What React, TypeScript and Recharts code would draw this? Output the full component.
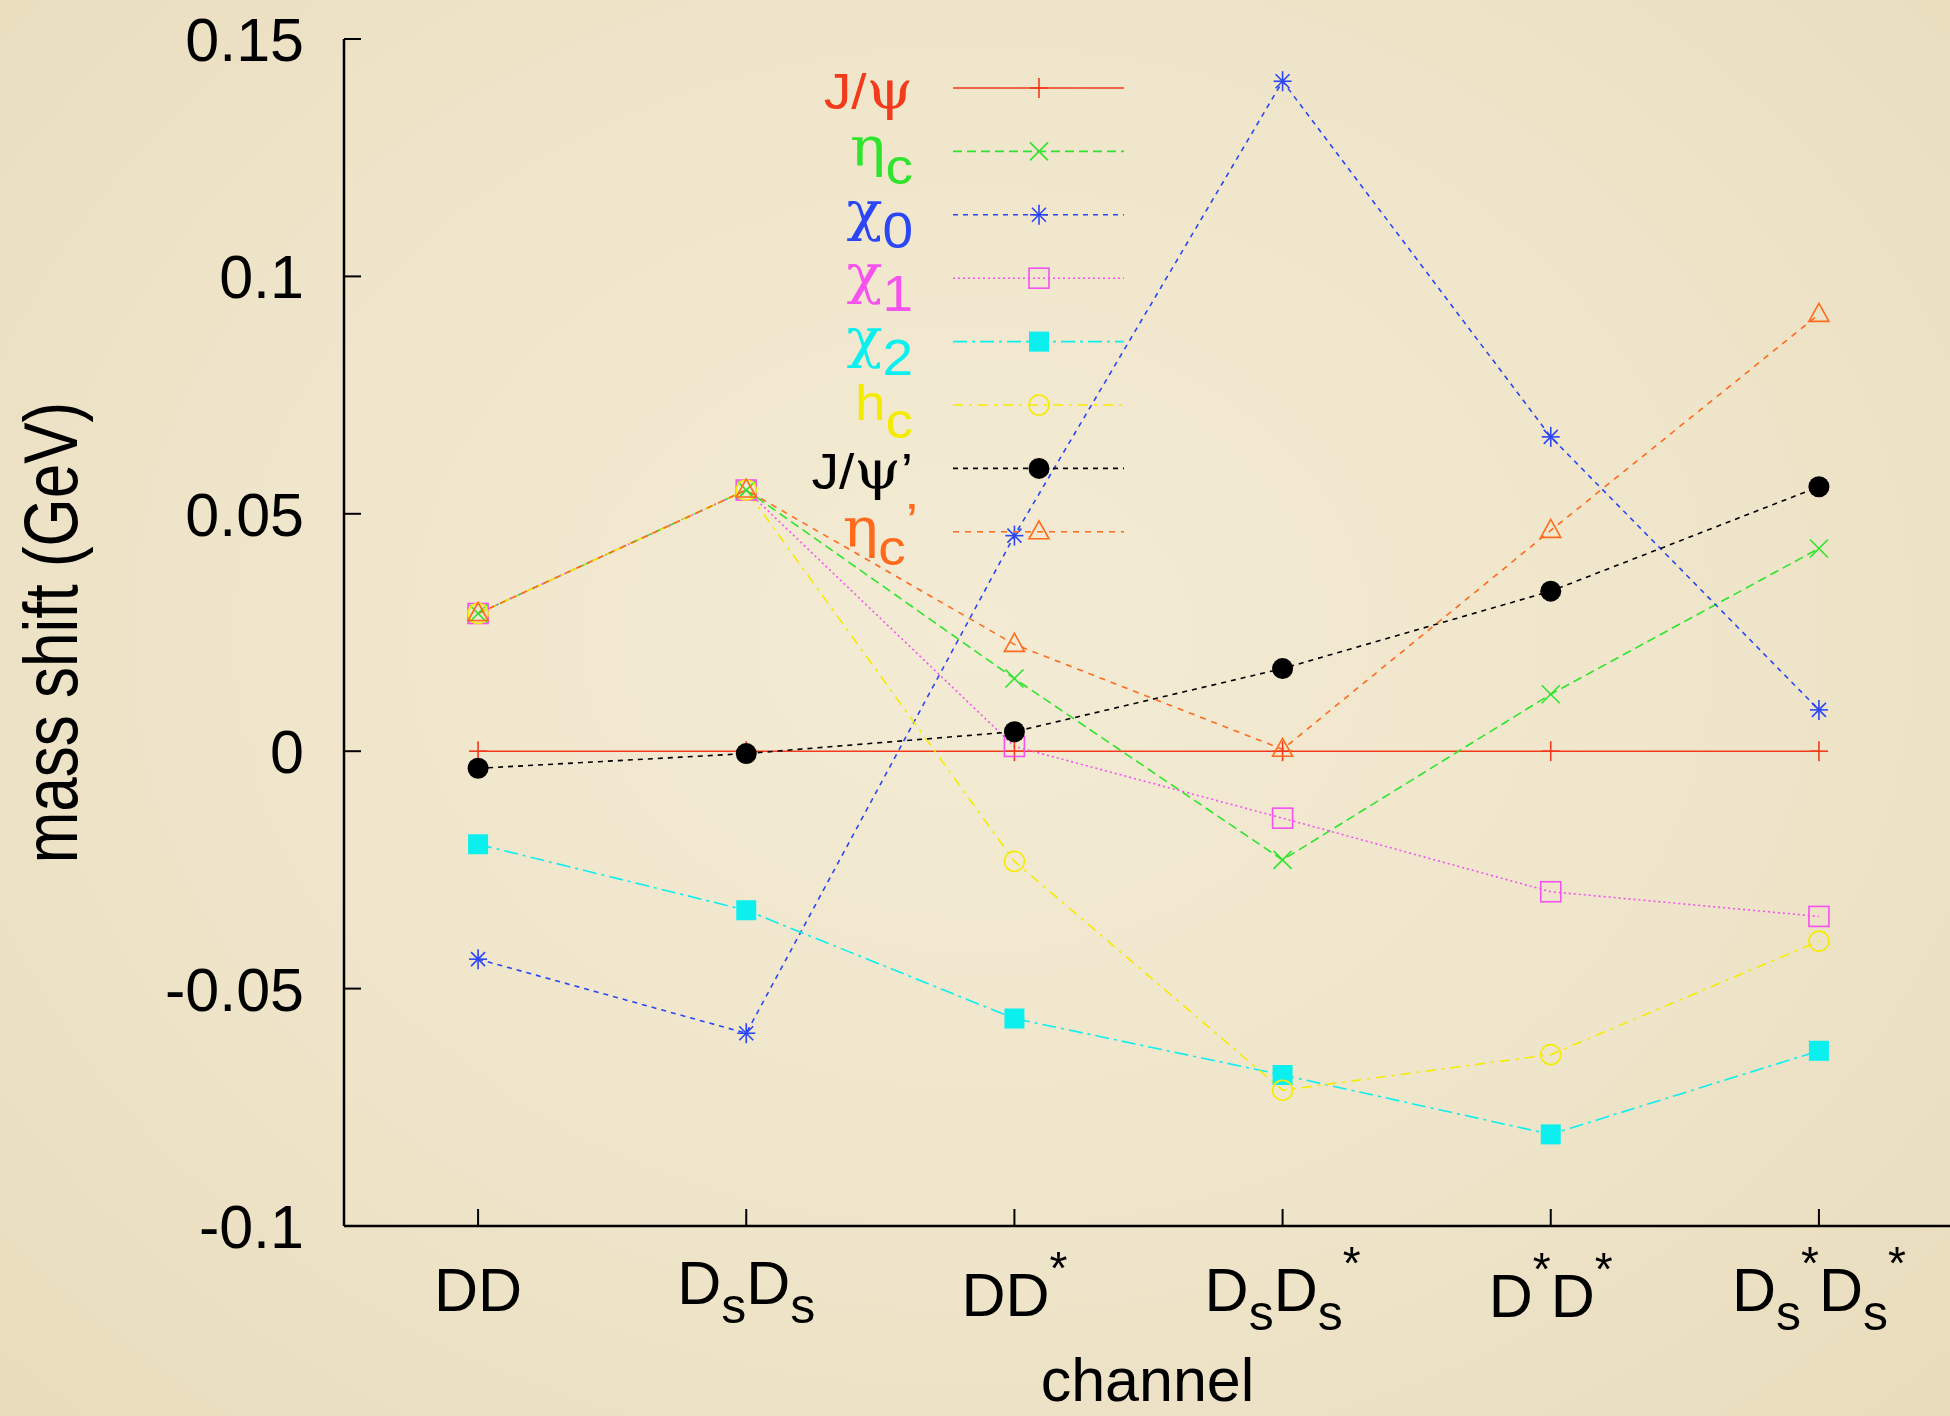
import React from 'react';
import { LineChart, Line, XAxis, YAxis, Legend } from 'recharts';

// ---------------- data ----------------
const categories = ['DD', 'DsDs', 'DD*', 'DsDs*', 'D*D*', 'Ds*Ds*'];
const xPositions = [1, 2, 3, 4, 5, 6];
const yTicks = [-0.1, -0.05, 0, 0.05, 0.1, 0.15];
const yTickLabels = ['-0.1', '-0.05', '0', '0.05', '0.1', '0.15'];

type Kind = 'n' | 'g' | 'sub' | 'sup';
type Part = [string, Kind];

// tick label text, split into normal / subscript / superscript pieces
const categoryLabelParts: Part[][] = [
  [['DD', 'n']],
  [['D', 'n'], ['s', 'sub'], ['D', 'n'], ['s', 'sub']],
  [['DD', 'n'], ['*', 'sup']],
  [['D', 'n'], ['s', 'sub'], ['D', 'n'], ['s', 'sub'], ['*', 'sup']],
  [['D', 'n'], ['*', 'sup'], ['D', 'n'], ['*', 'sup']],
  [['D', 'n'], ['s', 'sub'], ['*', 'sup'], ['D', 'n'], ['s', 'sub'], ['*', 'sup']],
];

const jpsi = [0, 0, 0, 0, 0, 0];
const etac = [0.029, 0.055, 0.0153, -0.0229, 0.012, 0.0427];
const chi0 = [-0.0438, -0.0594, 0.0454, 0.1411, 0.0662, 0.0087];
const chi1 = [0.029, 0.055, 0.001, -0.0141, -0.0296, -0.0348];
const chi2 = [-0.0196, -0.0335, -0.0563, -0.0682, -0.0807, -0.0631];
const hc = [0.029, 0.055, -0.0232, -0.0714, -0.0639, -0.04];
const jpsiPrime = [-0.0036, -0.0005, 0.0041, 0.0174, 0.0337, 0.0557];
const etacPrime = [0.029, 0.055, 0.0225, 0.0004, 0.0465, 0.092];

const seriesKeys = ['jpsi', 'etac', 'chi0', 'chi1', 'chi2', 'hc', 'jpsiPrime', 'etacPrime'];
const seriesValues = [jpsi, etac, chi0, chi1, chi2, hc, jpsiPrime, etacPrime];
const seriesNames: Part[][] = [
  [['J/', 'n'], ['ψ', 'g']],
  [['η', 'g'], ['c', 'sub']],
  [['χ', 'g'], ['0', 'sub']],
  [['χ', 'g'], ['1', 'sub']],
  [['χ', 'g'], ['2', 'sub']],
  [['h', 'n'], ['c', 'sub']],
  [['J/', 'n'], ['ψ', 'g'], ['’', 'n']],
  [['η', 'g'], ['c', 'sub'], ['’', 'sup']],
];

// ---------------- style ----------------
const SANS = '"Liberation Sans", Arial, Helvetica, "DejaVu Sans", sans-serif';
const SERIF = '"DejaVu Serif", "Liberation Serif", serif';

const seriesColors = ['#F43A1C', '#2FE42C', '#2A46F5', '#F552EE', '#0CEFEF', '#F4EC00', '#000000', '#FF6A1C'];
const seriesDash = ['', '9 5', '5 5', '2 3', '14 5 3 5', '10 6 3 6', '5 5', '6 6'];
const seriesMarker = ['plus', 'cross', 'star', 'sqOpen', 'sqFill', 'circOpen', 'circFill', 'tri'];

const data = xPositions.map((x, i) => {
  const row: Record<string, number | string> = { x, cat: categories[i] };
  seriesKeys.forEach((k, s) => {
    row[k] = seriesValues[s][i];
  });
  return row;
});

const Marker = ({ kind, cx, cy, color }: { kind: string; cx: number; cy: number; color: string }) => {
  const sw = 1.6;
  const s = 9;
  switch (kind) {
    case 'plus':
      return (
        <g stroke={color} strokeWidth={sw}>
          <line x1={cx - s} x2={cx + s} y1={cy} y2={cy} />
          <line x1={cx} x2={cx} y1={cy - s - 1} y2={cy + s + 1} />
        </g>
      );
    case 'cross':
      return (
        <g stroke={color} strokeWidth={sw}>
          <line x1={cx - s} x2={cx + s} y1={cy - s} y2={cy + s} />
          <line x1={cx - s} x2={cx + s} y1={cy + s} y2={cy - s} />
        </g>
      );
    case 'star':
      return (
        <g stroke={color} strokeWidth={sw}>
          <line x1={cx - s} x2={cx + s} y1={cy} y2={cy} />
          <line x1={cx} x2={cx} y1={cy - s - 1} y2={cy + s + 1} />
          <line x1={cx - s + 2} x2={cx + s - 2} y1={cy - s + 2} y2={cy + s - 2} />
          <line x1={cx - s + 2} x2={cx + s - 2} y1={cy + s - 2} y2={cy - s + 2} />
        </g>
      );
    case 'sqOpen':
      return <rect x={cx - 10} y={cy - 10} width={20} height={20} fill="none" stroke={color} strokeWidth={sw} />;
    case 'sqFill':
      return <rect x={cx - 10} y={cy - 10} width={20} height={20} fill={color} stroke="none" />;
    case 'circOpen':
      return <circle cx={cx} cy={cy} r={10} fill="none" stroke={color} strokeWidth={sw} />;
    case 'circFill':
      return <circle cx={cx} cy={cy} r={10.5} fill={color} stroke="none" />;
    case 'tri':
    default:
      return (
        <polygon
          points={`${cx},${cy - 11} ${cx - 10},${cy + 7} ${cx + 10},${cy + 7}`}
          fill="none"
          stroke={color}
          strokeWidth={sw}
        />
      );
  }
};

function renderParts(parts: Part[], offsets: Record<Kind, number>, sizes: Record<Kind, number>) {
  let cur = 0;
  return parts.map(([t, k], i) => {
    const target = offsets[k];
    const dy = target - cur;
    cur = target;
    return (
      <tspan key={i} dy={dy} fontSize={sizes[k]} fontFamily={k === 'g' ? SERIF : SANS}>
        {t}
      </tspan>
    );
  });
}

const TICK = 17;

const BottomTick = (props: any) => {
  const { x, y, payload } = props;
  const idx = xPositions.indexOf(payload.value);
  const parts = categoryLabelParts[idx] || [[String(payload.value), 'n']];
  const baseShift = [0, -7, 5, 0, 6, 0][idx] || 0;
  return (
    <g>
      <line x1={x} x2={x} y1={y} y2={y - TICK} stroke="#000" strokeWidth={2} />
      <text x={x} y={y + 85 + baseShift} textAnchor="middle" fill="#000" fontFamily={SANS} fontSize={61}>
        {renderParts(parts, { n: 0, g: 0, sub: 19, sup: -32 }, { n: 61, g: 61, sub: 50, sup: 46 })}
      </text>
    </g>
  );
};

const TopTick = (props: any) => {
  const { x, y } = props;
  return <line x1={x} x2={x} y1={y} y2={y + TICK} stroke="#000" strokeWidth={2} />;
};

const LeftTick = (props: any) => {
  const { x, y, payload } = props;
  const idx = yTicks.indexOf(payload.value);
  return (
    <g>
      <line x1={x} x2={x + TICK} y1={y} y2={y} stroke="#000" strokeWidth={2} />
      <text x={x - 40} y={y + 22} textAnchor="end" fill="#000" fontFamily={SANS} fontSize={61}>
        {yTickLabels[idx]}
      </text>
    </g>
  );
};

const RightTick = (props: any) => {
  const { x, y } = props;
  return <line x1={x} x2={x - TICK} y1={y} y2={y} stroke="#000" strokeWidth={2} />;
};

const XTitle = (props: any) => {
  const vb = props.viewBox || { x: 344, y: 1226, width: 1609, height: 190 };
  return (
    <text x={vb.x + vb.width / 2 - 1} y={vb.y + 175} textAnchor="middle" fill="#000" fontFamily={SANS} fontSize={61}>
      channel
    </text>
  );
};

const YTitle = (props: any) => {
  const vb = props.viewBox || { x: 0, y: 39, width: 344, height: 1187 };
  const cy = vb.y + vb.height / 2;
  return (
    <text
      transform={`translate(77, ${cy}) rotate(-90) scale(1, 1.22)`}
      x={0}
      y={0}
      textAnchor="middle"
      fill="#000"
      fontFamily={SANS}
      fontSize={62}
    >
      mass shift (GeV)
    </text>
  );
};

const LegendBox = () => {
  const rowY0 = 88;
  const step = 63.4;
  const lineX1 = 953;
  const lineX2 = 1124;
  const markX = 1039;
  return (
    <svg width={1950} height={1416} style={{ position: 'absolute', left: 0, top: 0, overflow: 'visible' }}>
      {seriesKeys.map((k, i) => {
        const ly = rowY0 + i * step;
        const parts = seriesNames[i];
        const hasSub = parts.some((p) => p[1] === 'sub');
        const base = ly + (hasSub ? 15 : 21);
        const anchorX = i === 7 ? 918 : 913;
        return (
          <g key={k}>
            <text
              transform={`translate(${anchorX}, ${base}) scale(1.1, 1)`}
              x={0}
              y={0}
              textAnchor="end"
              fill={seriesColors[i]}
              fontFamily={SANS}
              fontSize={50}
            >
              {renderParts(parts, { n: 0, g: 0, sub: 18, sup: -8 }, { n: 50, g: 54, sub: 50, sup: 50 })}
            </text>
            <line
              x1={lineX1}
              x2={lineX2}
              y1={ly}
              y2={ly}
              stroke={seriesColors[i]}
              strokeWidth={1.6}
              strokeDasharray={seriesDash[i] || undefined}
            />
            <Marker kind={seriesMarker[i]} cx={markX} cy={ly} color={seriesColors[i]} />
          </g>
        );
      })}
    </svg>
  );
};

export default function App() {
  return (
    <div
      style={{
        position: 'fixed',
        left: 0,
        top: 0,
        width: 1950,
        height: 1416,
        overflow: 'hidden',
        background:
          'radial-gradient(ellipse at 50% 45%, #F3EBD4 0%, #EFE5CA 55%, #E8DCBC 100%)',
      }}
    >
      <LineChart
        width={1960}
        height={1416}
        data={data}
        margin={{ top: 39, right: 7, bottom: 0, left: 0 }}
      >
        <XAxis
          xAxisId="b"
          dataKey="x"
          type="number"
          domain={[0.5, 6.5]}
          allowDataOverflow
          ticks={xPositions}
          interval={0}
          height={190}
          tickSize={0}
          tickMargin={0}
          tickLine={false}
          axisLine={{ stroke: '#000', strokeWidth: 2.5 }}
          tick={<BottomTick />}
          label={<XTitle />}
        />
        <XAxis
          xAxisId="t"
          orientation="top"
          dataKey="x"
          type="number"
          domain={[0.5, 6.5]}
          allowDataOverflow
          ticks={xPositions}
          interval={0}
          height={0}
          tickSize={0}
          tickMargin={0}
          tickLine={false}
          axisLine={{ stroke: '#000', strokeWidth: 2.5 }}
          tick={<TopTick />}
        />
        <YAxis
          yAxisId="l"
          type="number"
          domain={[-0.1, 0.15]}
          allowDataOverflow
          ticks={yTicks}
          interval={0}
          width={344}
          tickSize={0}
          tickMargin={0}
          tickLine={false}
          axisLine={{ stroke: '#000', strokeWidth: 2.5 }}
          tick={<LeftTick />}
          label={<YTitle />}
        />
        <YAxis
          yAxisId="r"
          orientation="right"
          type="number"
          domain={[-0.1, 0.15]}
          allowDataOverflow
          ticks={yTicks}
          interval={0}
          width={0}
          tickSize={0}
          tickMargin={0}
          tickLine={false}
          axisLine={{ stroke: '#000', strokeWidth: 2.5 }}
          tick={<RightTick />}
        />
        {seriesKeys.map((k, i) => (
          <Line
            key={k}
            xAxisId="b"
            yAxisId="l"
            type="linear"
            dataKey={k}
            stroke={seriesColors[i]}
            strokeWidth={1.6}
            strokeDasharray={seriesDash[i] || undefined}
            isAnimationActive={false}
            activeDot={false}
            dot={(p: any) => (
              <Marker key={`${k}-${p.index}`} kind={seriesMarker[i]} cx={p.cx} cy={p.cy} color={seriesColors[i]} />
            )}
          />
        ))}
        <Legend
          layout="vertical"
          align="center"
          verticalAlign="middle"
          content={() => <LegendBox />}
          wrapperStyle={{ left: 0, top: 0, width: 1950, height: 1416, pointerEvents: 'none' }}
        />
      </LineChart>
    </div>
  );
}
